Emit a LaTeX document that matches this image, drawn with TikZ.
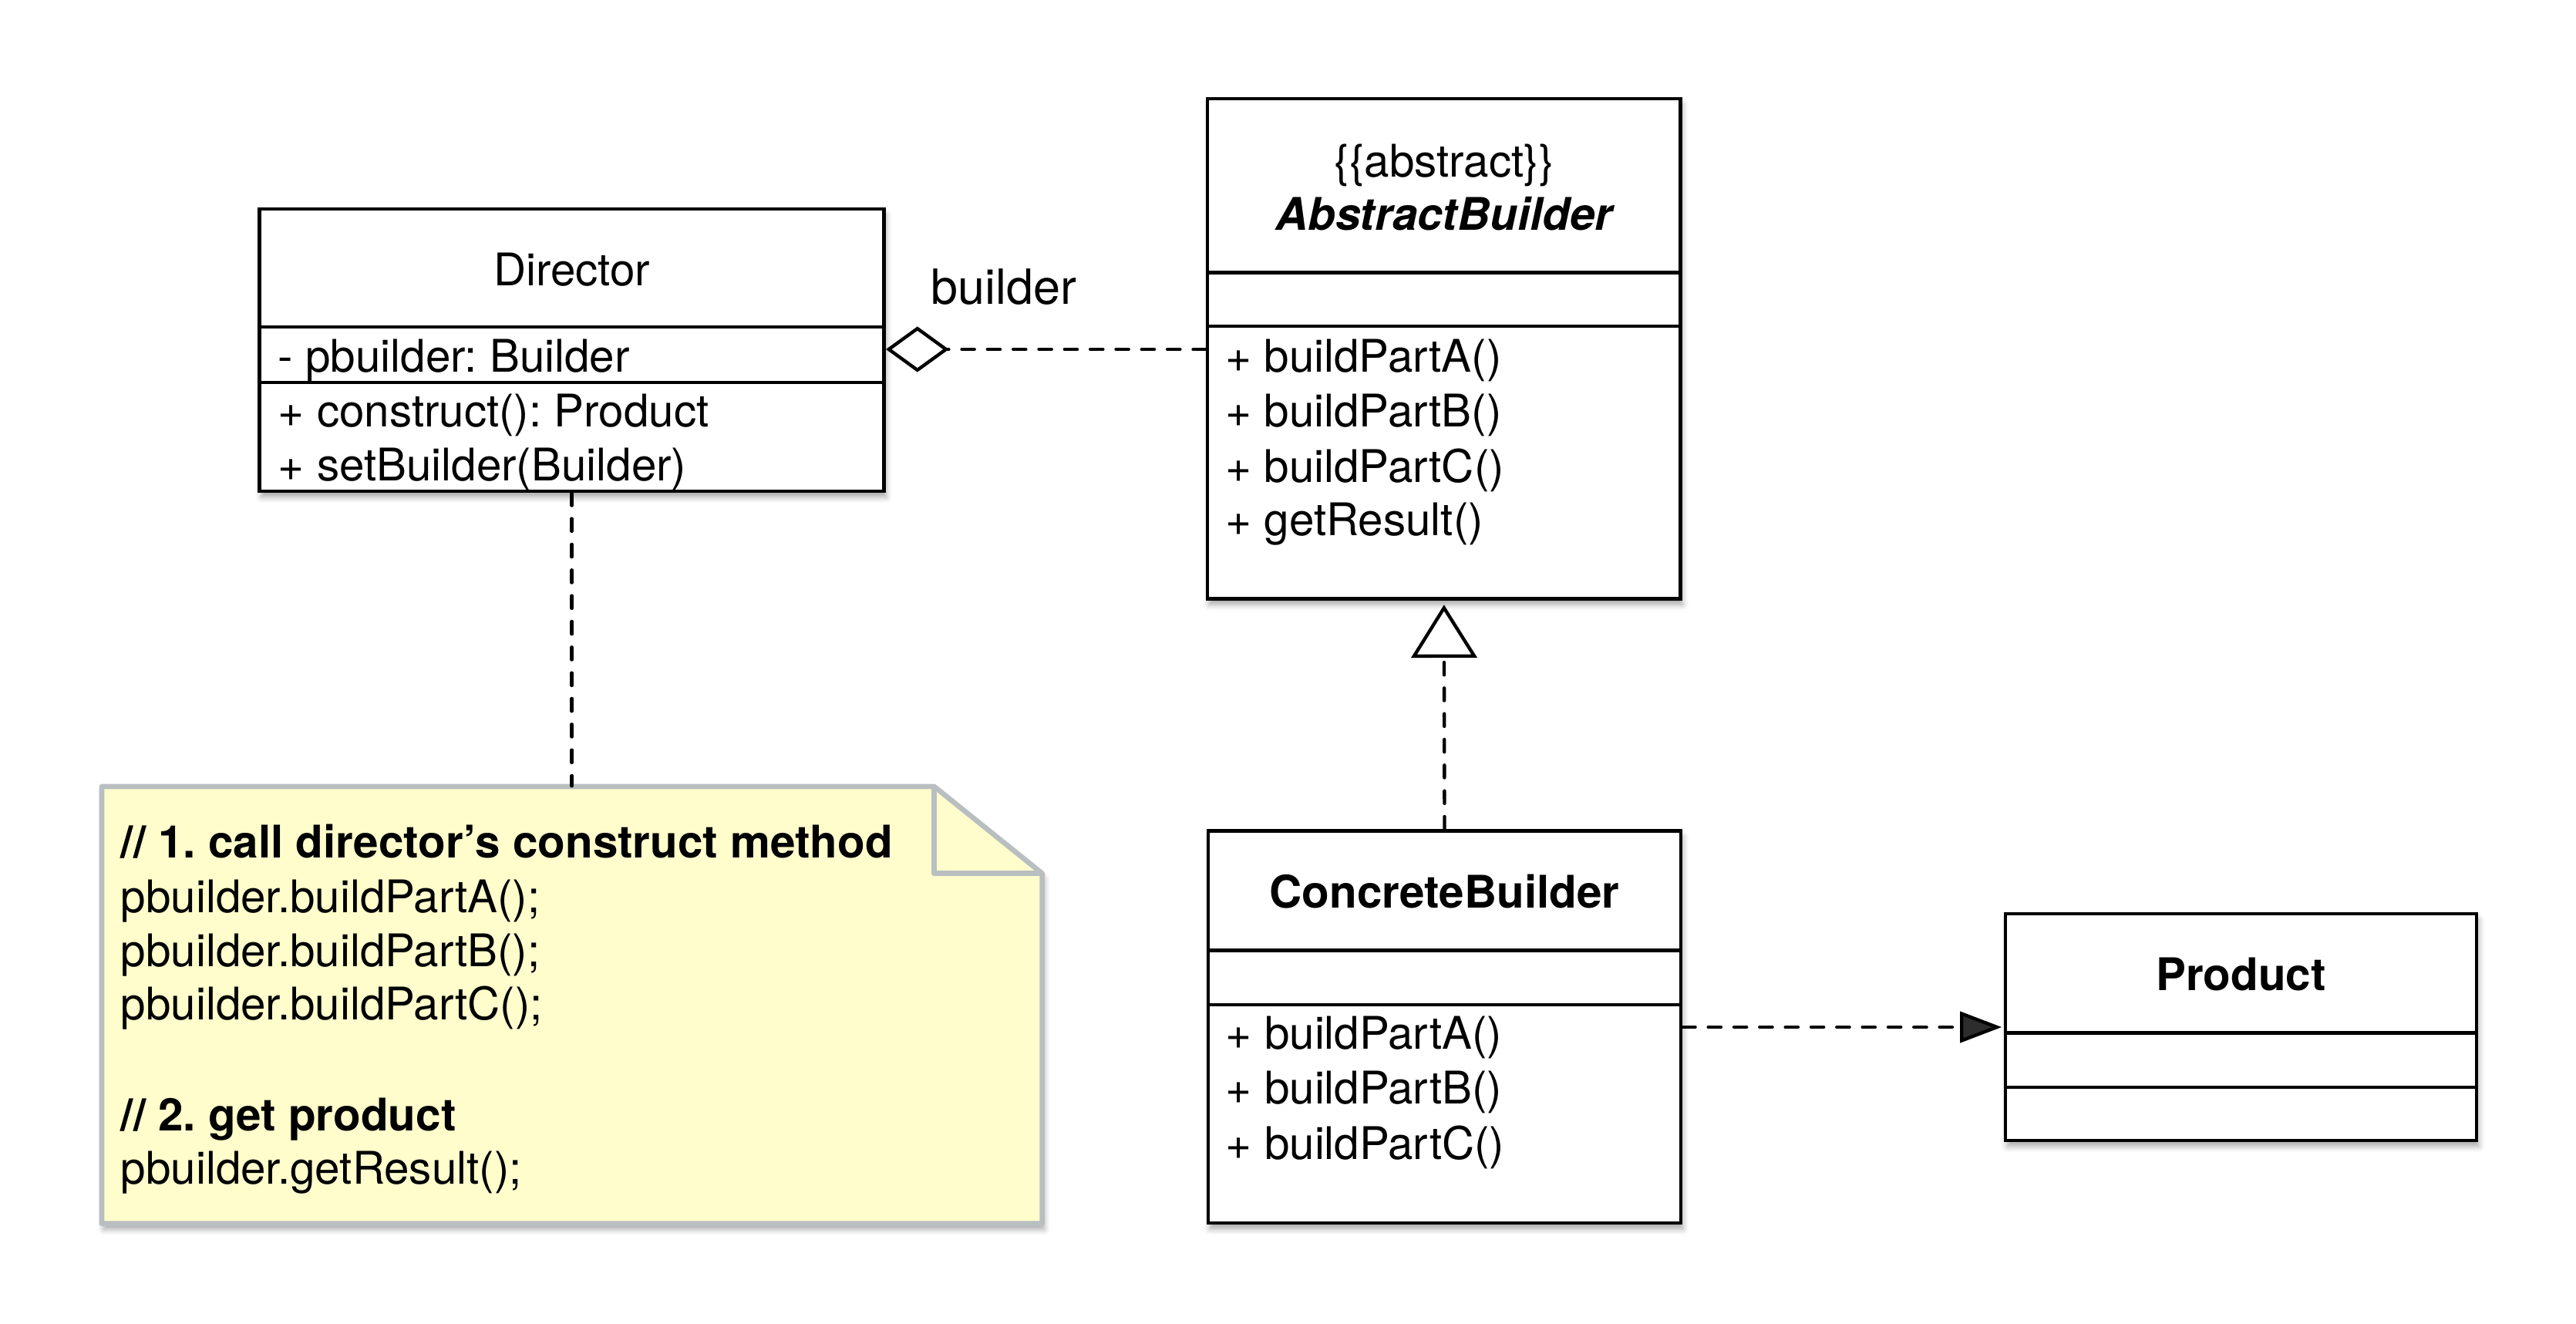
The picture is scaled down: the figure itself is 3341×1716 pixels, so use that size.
\documentclass[tikz,border=0pt]{standalone}
\usepackage{fontspec}
\setmainfont{TeX Gyre Heros}
\usetikzlibrary{arrows.meta,fit,shadows.blur}
\definecolor{notefill}{RGB}{255,253,204}
\definecolor{noteborder}{RGB}{185,190,192}
\frenchspacing
\tikzset{
  shd/.style={blur shadow={shadow xshift=0.6pt, shadow yshift=-1.8pt, shadow blur radius=1.8pt, shadow opacity=35}},
  cls/.style={draw=black, line width=1.1pt, fill=white, inner sep=0pt, shd},
  sepline/.style={line width=1.1pt},
  txt/.style={font=\fontsize{14pt}{16.8pt}\selectfont, inner sep=0pt, anchor=base west},
  ttl/.style={font=\fontsize{14pt}{16.8pt}\selectfont, inner sep=0pt, anchor=base},
  btxt/.style={txt, font=\fontsize{14pt}{16.8pt}\selectfont\bfseries},
  bttl/.style={ttl, font=\fontsize{14pt}{16.8pt}\selectfont\bfseries},
  conn/.style={line width=1.05pt, line cap=round, dash pattern=on 3.9pt off 4.1pt},
}
\begin{document}
\begin{tikzpicture}[x=0.24pt,y=-0.24pt]
\useasboundingbox (0,0) rectangle (3341,1716);

% ---------- Director ----------
\node[cls, fit={(336.6,271)(1146.7,637)}] (director) {};
\draw[sepline] (336.6,424) -- (1146.7,424);
\draw[sepline] (336.6,496) -- (1146.7,496);
\node[ttl] (dirT) at (741.6,370) {Director};
\node[txt] (dirA) at (360,482) {- pbuilder: Builder};
\node[txt] (dirM1) at (360,553) {+ construct(): Product};
\node[txt] (dirM2) at (360,623) {+ setBuilder(Builder)};

% ---------- AbstractBuilder ----------
\node[cls, fit={(1566,128)(2179.6,776.5)}] (ab) {};
\draw[sepline] (1566,353.7) -- (2179.6,353.7);
\draw[sepline] (1566,423) -- (2179.6,423);
\node[ttl] (abS) at (1873,229) {\{\{abstract\}\}};
\node[bttl, font=\fontsize{14pt}{16.8pt}\selectfont\bfseries\itshape] (abT) at (1873,298.6) {AbstractBuilder};
\node[txt] (abM1) at (1588.6,482) {+ buildPartA()};
\node[txt] (abM2) at (1588.6,553) {+ buildPartB()};
\node[txt] (abM3) at (1588.6,625) {+ buildPartC()};
\node[txt] (abM4) at (1588.6,694) {+ getResult()};

% ---------- ConcreteBuilder ----------
\node[cls, fit={(1567,1077.5)(2180,1586)}] (cb) {};
\draw[sepline] (1567,1232.6) -- (2180,1232.6);
\draw[sepline] (1567,1302.8) -- (2180,1302.8);
\node[bttl] (cbT) at (1873.5,1177.5) {ConcreteBuilder};
\node[txt] (cbM1) at (1589,1360) {+ buildPartA()};
\node[txt] (cbM2) at (1589,1431) {+ buildPartB()};
\node[txt] (cbM3) at (1589,1503) {+ buildPartC()};

% ---------- Product ----------
\node[cls, fit={(2601,1185)(3212,1479)}] (product) {};
\draw[sepline] (2601,1339.6) -- (3212,1339.6);
\draw[sepline] (2601,1410) -- (3212,1410);
\node[bttl] (prT) at (2906.5,1284.6) {Product};

% ---------- Note ----------
\node[inner sep=0pt, fit={(132,1020)(1351.7,1586.7)}] (note) {};
\path[fill=notefill, draw=noteborder, line width=1.6pt, line join=round, shd]
  (132,1020) -- (1211.7,1020) -- (1351.7,1132.7) -- (1351.7,1586.7) -- (132,1586.7) -- cycle;
\draw[noteborder, line width=1.6pt, line join=round] (1211.7,1020) -- (1211.7,1132.7) -- (1351.7,1132.7);
\node[btxt] (n1) at (156,1112.6) {// 1. call director’s construct method};
\node[txt] (n2) at (156,1183.8) {pbuilder.buildPartA();};
\node[txt] (n3) at (156,1253) {pbuilder.buildPartB();};
\node[txt] (n4) at (156,1322) {pbuilder.buildPartC();};
\node[btxt] (n5) at (156,1466) {// 2. get product};
\node[txt] (n6) at (156,1535.6) {pbuilder.getResult();};

% ---------- Connectors ----------
\draw[conn, -{Diamond[open, length=19.6pt, width=14.2pt, line cap=butt]}]
  (ab.west |- 0,453) -- (director.east |- 0,453);
\node[txt, font=\fontsize{15.1pt}{18pt}\selectfont] (aggLabel) at (1207,394) {builder};

\draw[conn, shorten >=1.3pt, -{Triangle[open, length=16.5pt, width=20.4pt, line cap=butt]}]
  (cb.north) -- (ab.south);

\draw[conn, shorten >=0.6pt, -{Triangle[length=13pt, width=9.6pt]}]
  (cb.east |- 0,1332) -- (product.west |- 0,1332);

\draw[conn] (director.south) -- (director.south |- note.north);
\end{tikzpicture}
\end{document}
